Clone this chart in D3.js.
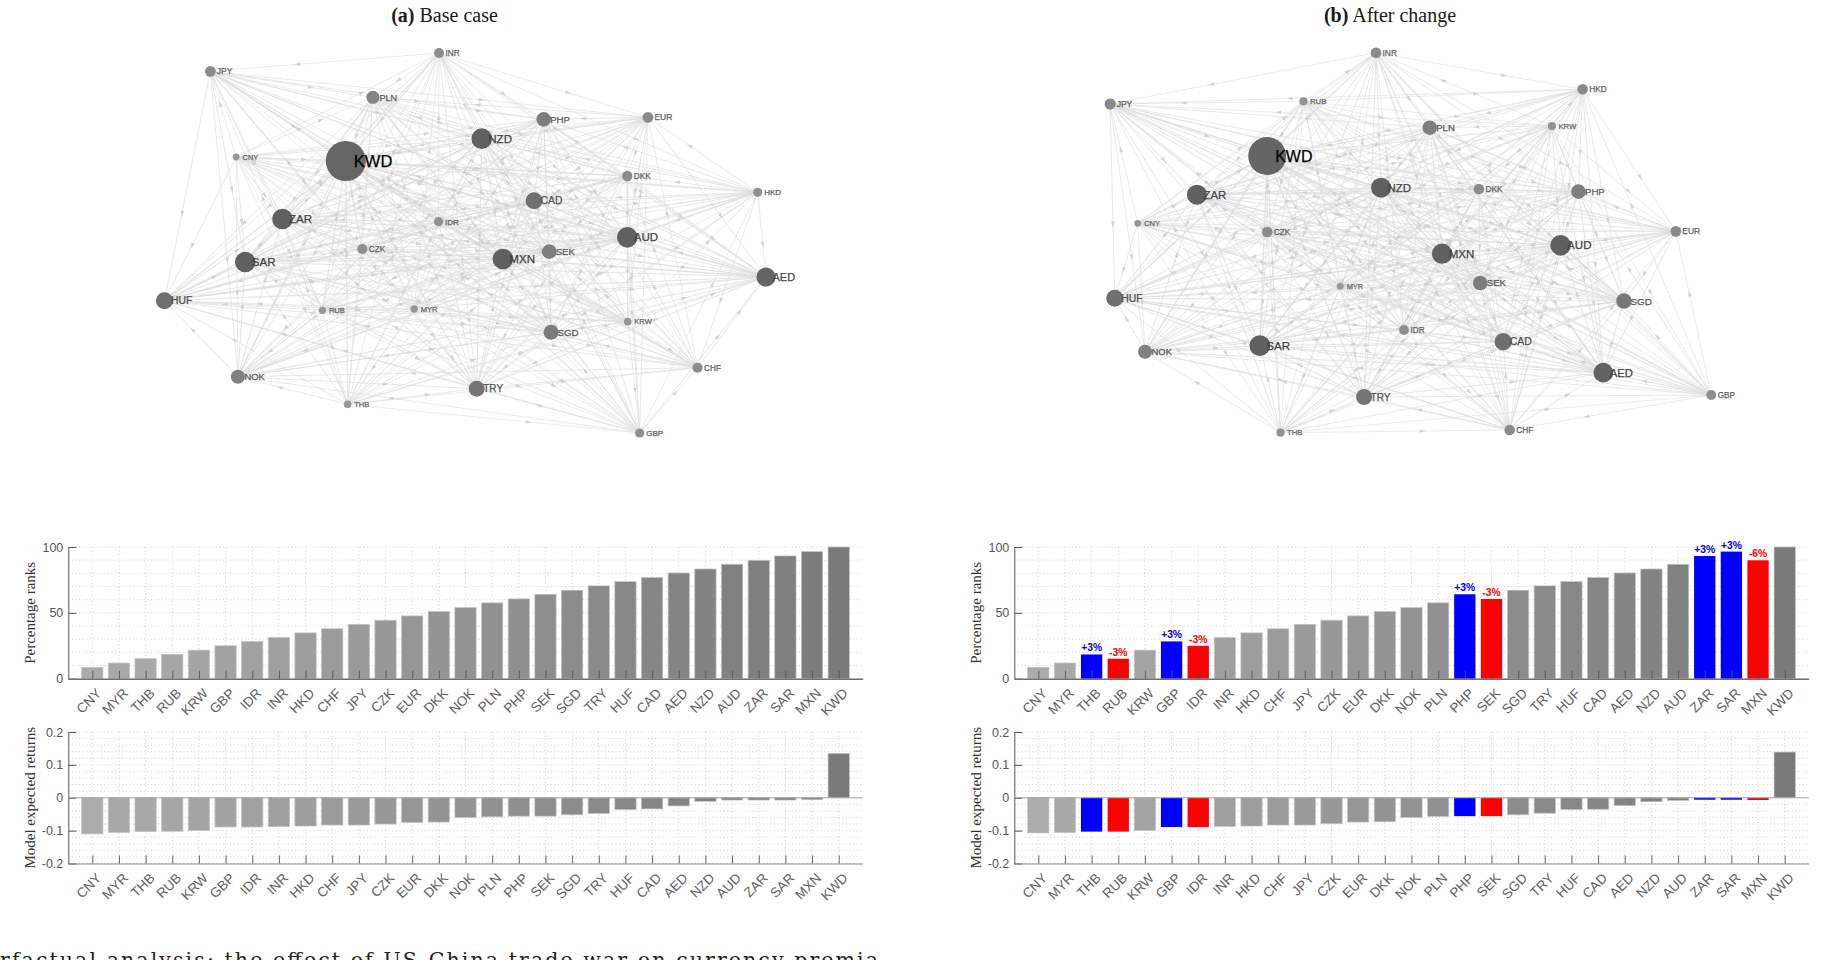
<!DOCTYPE html>
<html>
<head>
<meta charset="utf-8">
<title>Currency trade network and risk premia</title>
<script src="https://cdn.jsdelivr.net/npm/d3@7/dist/d3.min.js"></script>
<style>
  html, body { margin: 0; padding: 0; background: #fff; overflow: hidden; }
  svg { display: block; }
</style>
</head>
<body>
<svg id="chart" width="1834" height="960"></svg>
<script>
// Currencies, ordered by base-case percentage rank
const currencies = ["CNY","MYR","THB","RUB","KRW","GBP","IDR","INR","HKD","CHF","JPY","CZK","EUR","DKK","NOK","PLN","PHP","SEK","SGD","TRY","HUF","CAD","AED","NZD","AUD","ZAR","SAR","MXN","KWD"];

// Percentage ranks
const ranksBase  = [8.6,11.9,15.2,18.4,21.7,25,28.3,31.3,34.8,37.9,41.2,44.4,47.7,51,54,57.6,60.6,64.1,67.2,70.5,73.7,76.8,80.3,83.3,86.9,89.9,93.2,96.5,100];
const ranksAfter = [8.6,11.9,18.4,15.2,21.7,28.3,25,31.3,34.8,37.9,41.2,44.4,47.7,51,54,57.6,64.1,60.6,67.2,70.5,73.7,76.8,80.3,83.3,86.9,93.2,96.5,89.9,100];

// Model expected returns
const returnsBase  = [-0.110,-0.106,-0.103,-0.102,-0.100,-0.089,-0.089,-0.088,-0.086,-0.083,-0.083,-0.080,-0.075,-0.074,-0.060,-0.058,-0.056,-0.056,-0.052,-0.048,-0.036,-0.034,-0.025,-0.011,-0.007,-0.007,-0.007,-0.006,0.135];
const returnsAfter = [-0.107,-0.106,-0.103,-0.103,-0.100,-0.089,-0.089,-0.087,-0.086,-0.083,-0.083,-0.079,-0.074,-0.073,-0.060,-0.057,-0.056,-0.056,-0.052,-0.047,-0.036,-0.035,-0.024,-0.012,-0.008,-0.006,-0.006,-0.007,0.139];

// Rank moves caused by the change, labelled above the affected bars
const rankMoves = {THB:"+3%",RUB:"-3%",GBP:"+3%",IDR:"-3%",PHP:"+3%",SEK:"-3%",ZAR:"+3%",SAR:"+3%",MXN:"-6%"};

// Network layouts, in layout units
const layoutBaseX  = [231,619,474,419,1084,1110,672,673,1367,1236,175,506,1128,1083,235,529,901,913,917,755,75,880,1385,766,1083,332,251,812,470];
const layoutBaseY  = [471,927,1213,931,965,1299,665,159,577,1103,214,747,352,528,1130,292,358,755,997,1166,902,602,831,416,712,657,786,777,483];
const layoutAfterX = [191,632,502,552,1093,1440,771,710,1160,1001,131,473,1363,934,207,827,1151,937,1250,684,141,987,1205,721,1112,320,457,854,473];
const layoutAfterY = [670,859,1298,304,378,1185,990,158,268,1290,312,696,694,567,1055,383,575,849,903,1191,895,1025,1118,563,736,584,1037,761,468];

// Node centrality (KWD in the base case = 100)
const centralityBase  = [2.9,3.4,3.6,3.4,3.6,5.3,5.3,6.3,5.3,6.3,7.3,6.3,7.3,6.8,12.3,10.6,13.3,13.3,14,16,18,18,22.6,26.5,26.5,26.5,26.5,26.5,100];
const centralityAfter = [2.9,2.9,4.2,4.2,4.2,6,6,7,7,7,7.8,7,7.3,7,12.3,13,13.3,13.3,15,16,18,19,24,25,26.5,25,27,26,90];

const svg = d3.select("#chart");
const SANS = "'Liberation Sans', Arial, sans-serif";
const SERIF = "'Liberation Serif', 'Times New Roman', serif";

const nodeRadius = d3.scaleSqrt().domain([0, 100]).range([0, 20]);
const nodeFill = d3.scaleLinear().domain([3, 7, 10, 20]).range(["#9a9a9a", "#808080", "#606060", "#666666"]);
const labelSize = d3.scaleLinear().domain([3, 5, 7, 10, 20]).range([7.2, 8.2, 9.4, 11.4, 16.5]);
const labelFill = d3.scaleLinear().domain([3, 7, 10]).range(["#666", "#5a5a5a", "#444"]);
const edgeWidth = d3.scaleLinear().domain([6, 30]).range([0.7, 1.4]);

function drawNetwork(originX, xs, ys, sizes) {
  const x = d3.scaleLinear().domain([0, 1568]).range([originX, originX + 720]);
  const y = d3.scaleLinear().domain([0, 1380]).range([0, 460]);
  const nodes = currencies.map((name, i) => ({name, i, x: x(xs[i]), y: y(ys[i]), r: nodeRadius(sizes[i])}));

  // Every pair of currencies is linked, pointing up the base-case ranking
  const edges = d3.cross(nodes, nodes).filter(([a, b]) => a.i < b.i);
  const g = svg.append("g");

  g.append("g").selectAll("line").data(edges).join("line")
    .attr("x1", d => d[0].x).attr("y1", d => d[0].y)
    .attr("x2", d => d[1].x).attr("y2", d => d[1].y)
    .attr("stroke", "#dcdcdc")
    .attr("stroke-opacity", 0.72)
    .attr("stroke-width", d => edgeWidth(d[0].r + d[1].r));

  g.append("g").selectAll("path").data(edges).join("path")
    .attr("d", "M3,0L-3,-1.8L-3,1.8Z")
    .attr("fill", "#d2d2d2")
    .attr("transform", d => {
      const px = d3.interpolateNumber(d[0].x, d[1].x)(0.62);
      const py = d3.interpolateNumber(d[0].y, d[1].y)(0.62);
      const angle = Math.atan2(d[1].y - d[0].y, d[1].x - d[0].x) * 180 / Math.PI;
      return `translate(${px},${py}) rotate(${angle})`;
    });

  g.append("g").selectAll("circle").data(nodes).join("circle")
    .attr("cx", d => d.x).attr("cy", d => d.y).attr("r", d => d.r)
    .attr("fill", d => nodeFill(d.r));

  g.append("g").selectAll("text").data(nodes).join("text")
    .attr("x", d => d.x + (d.r > 15 ? 8 : 6.5))
    .attr("y", d => d.y)
    .attr("dy", "0.36em")
    .attr("font-family", SANS)
    .attr("font-size", d => labelSize(d.r))
    .attr("fill", d => labelFill(d.r))
    .attr("stroke", d => labelFill(d.r))
    .attr("stroke-width", 0.25)
    .text(d => d.name);
}

const barFill = d3.scaleLinear().domain([1, 29]).range(["#ababab", "#7a7a7a"]);

function drawBars(left, top, bottom, domain, yTicks, yFormat, gridTicks, values, axisTitle, opts) {
  const index = currencies.map((_, i) => i + 1);
  const x = d3.scaleLinear().domain([0.1, 29.9]).range([left, left + 794.4]);
  const y = d3.scaleLinear().domain(domain).range([bottom, top]);
  const g = svg.append("g");
  const baseline = y(0);
  const barW = 21.3;

  // Dotted grid
  const dots = {stroke: "#c8c8c8", "stroke-width": 0.9, "stroke-dasharray": "1 2.6"};
  const hGrid = g.append("g").selectAll("line").data(gridTicks).join("line")
    .attr("x1", left).attr("x2", left + 794.4)
    .attr("y1", d => y(d)).attr("y2", d => y(d));
  const vGrid = g.append("g").selectAll("line").data(index).join("line")
    .attr("x1", d => x(d)).attr("x2", d => x(d))
    .attr("y1", top).attr("y2", bottom);
  [hGrid, vGrid].forEach(s => Object.entries(dots).forEach(([k, v]) => s.attr(k, v)));

  // Bars
  const colour = d => (opts.highlight && rankMoves[currencies[d - 1]])
    ? (rankMoves[currencies[d - 1]][0] === "+" ? "#0000ff" : "#ff0000")
    : barFill(d);
  g.append("g").selectAll("rect").data(index).join("rect")
    .attr("x", d => x(d) - barW / 2)
    .attr("width", barW)
    .attr("y", d => Math.min(y(values[d - 1]), baseline))
    .attr("height", d => Math.abs(y(values[d - 1]) - baseline))
    .attr("fill", colour)
    .attr("stroke", d => (opts.highlight && rankMoves[currencies[d - 1]]) ? "none" : "#c4c4c4")
    .attr("stroke-width", 0.7);

  // Value-change labels above the highlighted bars
  if (opts.highlight && opts.showMoves) {
    g.append("g").selectAll("text")
      .data(index.filter(d => rankMoves[currencies[d - 1]])).join("text")
      .attr("x", d => x(d))
      .attr("y", d => y(values[d - 1]) - 3)
      .attr("text-anchor", "middle")
      .attr("font-family", SANS)
      .attr("font-weight", "bold")
      .attr("font-size", 10.3)
      .attr("fill", d => colour(d))
      .text(d => rankMoves[currencies[d - 1]]);
  }

  // Left axis, ticks point inward
  const yAxis = g.append("g").attr("transform", `translate(${left},0)`)
    .call(d3.axisLeft(y).tickValues(yTicks).tickFormat(yFormat).tickSizeInner(-8).tickSizeOuter(0).tickPadding(5));
  yAxis.select(".domain").attr("stroke", "#666").attr("stroke-width", 1.1);
  yAxis.selectAll(".tick line").attr("stroke", "#555").attr("stroke-width", 1);
  yAxis.selectAll("text").attr("font-family", SANS).attr("font-size", 12.5).attr("fill", "#555");

  // Bottom axis with slanted currency labels, ticks point inward
  const xAxis = g.append("g").attr("transform", `translate(0,${bottom})`)
    .call(d3.axisBottom(x).tickValues(index).tickFormat(d => currencies[d - 1]).tickSizeInner(-8).tickSizeOuter(0));
  xAxis.select(".domain").attr("stroke", opts.lowerPanel ? "#8a8a8a" : "#707070").attr("stroke-width", opts.lowerPanel ? 1.1 : 1.6);
  xAxis.selectAll(".tick line").attr("stroke", "#555").attr("stroke-width", 0.9);
  xAxis.selectAll("text")
    .attr("font-family", SANS).attr("font-size", 13.5).attr("fill", "#5f5f5f")
    .attr("text-anchor", "end")
    .attr("y", 0).attr("dy", "0.36em")
    .attr("transform", "translate(6,12) rotate(-45)");

  // Zero line of the returns panel
  if (opts.lowerPanel) {
    g.append("line").attr("x1", left).attr("x2", left + 794.4)
      .attr("y1", baseline).attr("y2", baseline)
      .attr("stroke", "#a5a5a5").attr("stroke-width", 1.2);
  }

  // Axis title
  g.append("text")
    .attr("transform", `translate(${left - 38},${(top + bottom) / 2}) rotate(-90)`)
    .attr("dy", "0.32em")
    .attr("text-anchor", "middle")
    .attr("font-family", SERIF)
    .attr("font-size", 15)
    .attr("fill", "#333")
    .text(axisTitle);
}

function drawTitle(cx, tag, label) {
  const t = svg.append("text").attr("x", cx).attr("y", 22)
    .attr("text-anchor", "middle")
    .attr("font-family", SERIF).attr("font-size", 20).attr("fill", "#1a1a1a");
  t.append("tspan").attr("font-weight", "bold").text(tag);
  t.append("tspan").text(" " + label);
}

// Panel (a)
drawTitle(444.5, "(a)", "Base case");
drawNetwork(130, layoutBaseX, layoutBaseY, centralityBase);

// Panel (b)
drawTitle(1390, "(b)", "After change");
drawNetwork(1050, layoutAfterX, layoutAfterY, centralityAfter);

const rankTicks = [0, 50, 100];
const rankGrid = d3.range(0, 101, 10);
const retTicks = [-0.2, -0.1, 0, 0.1, 0.2];
const retGrid = d3.range(-10, 11).map(d => d * 0.02);
const fmtRet = d => d === 0 ? "0" : d3.format(".1f")(d).replace("−", "-");

drawBars(68.3, 547, 678.7, [0, 100], rankTicks, d => d, rankGrid, ranksBase, "Percentage ranks", {});
drawBars(68.3, 732, 863.5, [-0.2, 0.2], retTicks, fmtRet, retGrid, returnsBase, "Model expected returns", {lowerPanel: true});
drawBars(1014.3, 547, 678.7, [0, 100], rankTicks, d => d, rankGrid, ranksAfter, "Percentage ranks", {highlight: true, showMoves: true});
drawBars(1014.3, 732, 863.5, [-0.2, 0.2], retTicks, fmtRet, retGrid, returnsAfter, "Model expected returns", {highlight: true, lowerPanel: true});

// Figure caption running off the foot of the page
svg.append("text")
  .attr("x", 0).attr("y", 967)
  .attr("textLength", 878)
  .attr("font-family", "'DejaVu Serif', serif")
  .attr("font-size", 20.5)
  .attr("fill", "#222")
  .text("rfactual analysis: the effect of US-China trade war on currency premia");
</script>
</body>
</html>
